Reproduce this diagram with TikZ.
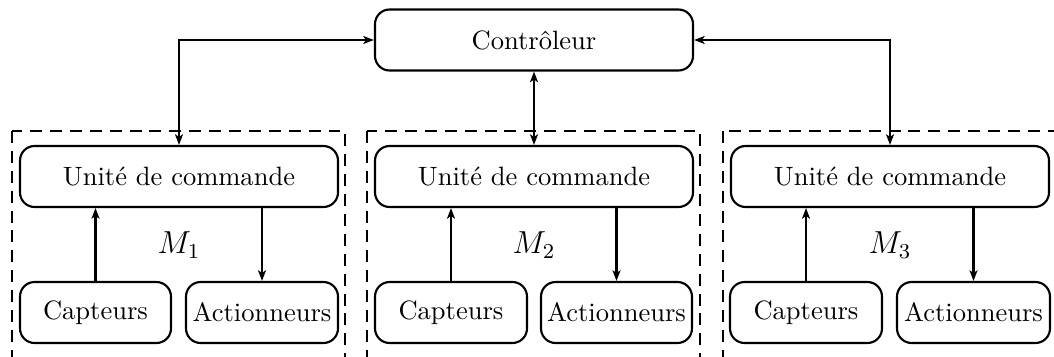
\documentclass[tikz,border=0pt]{standalone}
\usetikzlibrary{arrows.meta}
\begin{document}
\begin{tikzpicture}[x=0.377pt, y=-0.377pt,
  box/.style={draw, thick, rounded corners=5.5pt, inner sep=0pt,
              minimum width=#1*0.377pt, minimum height=61*0.377pt},
  box/.default=318,
  module/.style={draw, thick, dash pattern=on 4.5pt off 3pt},
  link/.style={thick, >={Stealth[length=4pt,width=3pt,inset=1pt]}}]
  \clip (0,0) rectangle (1054,356);

  % controller
  \node[box] (ctrl) at (534,40) {Contrôleur};

  % module frames (open at the bottom / right)
  \draw[module] (12,131) rectangle (345,380);
  \draw[module] (367,131) rectangle (700,380);
  \draw[module] (723,131) rectangle (1080,380);

  % module 1
  \node[box] (u1) at (179,176.5) {Unité de commande};
  \node[box=151] (c1) at (95.5,312.5) {Capteurs};
  \node[box=152] (a1) at (262,312.5) {Actionneurs};
  \node (m1) at (179,245) {\large $M_1$};

  % module 2
  \node[box] (u2) at (534,176.5) {Unité de commande};
  \node[box=152] (c2) at (451,312.5) {Capteurs};
  \node[box=151] (a2) at (616.5,312.5) {Actionneurs};
  \node (m2) at (534,245) {\large $M_2$};

  % module 3
  \node[box] (u3) at (890,176.5) {Unité de commande};
  \node[box=152] (c3) at (806,312.5) {Capteurs};
  \node[box=153] (a3) at (973.5,312.5) {Actionneurs};
  \node (m3) at (890,245) {\large $M_3$};

  % controller links
  \draw[link,<->] (ctrl.west) -| (u1.north);
  \draw[link,<->] (ctrl.south) -- (u2.north);
  \draw[link,<->] (ctrl.east) -| (u3.north);

  % sensor / actuator links
  \foreach \i in {1,2,3} {
    \draw[link,->] (c\i.north) -- (c\i.north |- u\i.south);
    \draw[link,->] (a\i.north |- u\i.south) -- (a\i.north);
  }
\end{tikzpicture}
\end{document}
